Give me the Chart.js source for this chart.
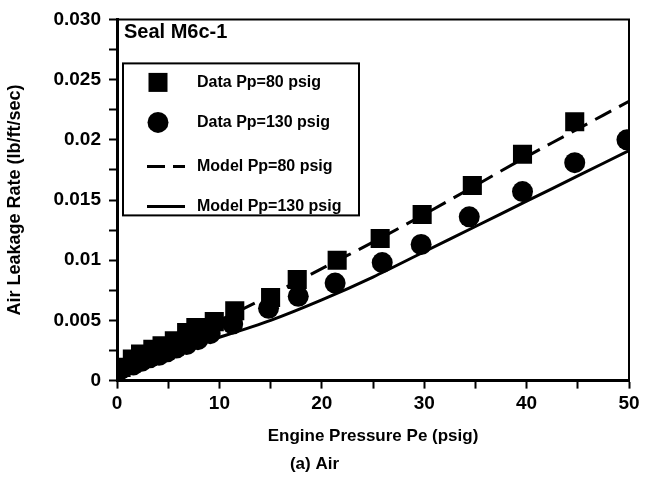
<!DOCTYPE html>
<html>
<head>
<meta charset="utf-8">
<script src="https://cdn.jsdelivr.net/npm/chart.js@4.4.0/dist/chart.umd.min.js"></script>
<style>
  html, body { margin: 0; padding: 0; background: #fff; }
  #wrap { width: 650px; height: 486px; }
</style>
</head>
<body>
<div id="wrap"><canvas id="leakChart"></canvas></div>
<script>
// --- datos ---
const pressure80 = [0.4, 1.5, 2.3, 3.5, 4.4, 5.6, 6.8, 7.7, 9.5, 11.5, 15.0, 17.6, 21.5, 25.7, 29.8, 34.7, 39.6, 44.7];
const rate80 = [0.0011, 0.0018, 0.0022, 0.0026, 0.0029, 0.0033, 0.0040, 0.0044, 0.0049, 0.0058, 0.0069, 0.0084, 0.0100, 0.0118, 0.0138, 0.0162, 0.0188, 0.0215];

const pressure130 = [0.3, 1.6, 2.4, 3.2, 4.1, 4.9, 5.8, 6.8, 7.9, 9.1, 11.3, 14.8, 17.7, 21.3, 25.9, 29.7, 34.4, 39.6, 44.7, 49.8];
const rate130 = [0.0009, 0.0013, 0.0016, 0.0019, 0.0021, 0.0024, 0.0027, 0.0030, 0.0034, 0.0039, 0.0047, 0.0060, 0.0070, 0.0081, 0.0098, 0.0113, 0.0136, 0.0157, 0.0181, 0.0200];

const modelPressure = [0, 5, 10, 15, 20, 25, 30, 35, 40, 45, 50];
const model80 = [0.0009, 0.0031, 0.0050, 0.0071, 0.0093, 0.0115, 0.0138, 0.0162, 0.0186, 0.0209, 0.0232];
const model130 = [0.0008, 0.0023, 0.0036, 0.0050, 0.0067, 0.0086, 0.0107, 0.0128, 0.0149, 0.0170, 0.0191];

const yTickText = ['0', '0.005', '0.01', '0.015', '0.02', '0.025', '0.030'];
const xTickText = ['0', '10', '20', '30', '40', '50'];

const legendLabels = ['Data Pp=80 psig', 'Data Pp=130 psig', 'Model Pp=80 psig', 'Model Pp=130 psig'];
const plotTitle = 'Seal M6c-1';
// --- fin de los datos ---

const FONT = '"Liberation Sans", Arial, Helvetica, sans-serif';
const toPoints = (xs, ys) => xs.map((x, i) => ({ x: x, y: ys[i] }));

// Marco, título interior y leyenda dibujados a mano
const framePlugin = {
    id: 'frameAndLegend',
    afterDraw(chart) {
        const ctx = chart.ctx;
        const a = chart.chartArea;
        ctx.save();
        ctx.strokeStyle = '#000';
        ctx.lineWidth = 2;
        ctx.beginPath();
        ctx.moveTo(a.left, a.top);
        ctx.lineTo(a.right, a.top);
        ctx.lineTo(a.right, a.bottom);
        ctx.stroke();

        ctx.fillStyle = '#000';
        ctx.font = 'bold 20px ' + FONT;
        ctx.textBaseline = 'middle';
        ctx.textAlign = 'left';
        ctx.fillText(plotTitle, a.left + 7, a.top + 13);

        // caja de la leyenda
        const bx = a.left + 6, by = a.top + 44, bw = 236, bh = 152;
        ctx.lineWidth = 2;
        ctx.strokeRect(bx, by, bw, bh);

        const mx = bx + 35, tx = bx + 74;
        const rows = [by + 19, by + 59, by + 103, by + 143];
        ctx.fillRect(mx - 9.5, rows[0] - 9.5, 19, 19);
        ctx.beginPath();
        ctx.arc(mx, rows[1], 10.5, 0, Math.PI * 2);
        ctx.fill();

        ctx.lineWidth = 3;
        ctx.setLineDash([18, 8]);
        ctx.beginPath();
        ctx.moveTo(mx - 11, rows[2]);
        ctx.lineTo(mx + 27, rows[2]);
        ctx.stroke();
        ctx.setLineDash([]);
        ctx.beginPath();
        ctx.moveTo(mx - 11, rows[3]);
        ctx.lineTo(mx + 27, rows[3]);
        ctx.stroke();

        ctx.font = 'bold 16px ' + FONT;
        legendLabels.forEach((t, i) => ctx.fillText(t, tx, rows[i]));
        ctx.restore();
    }
};

const leakCtx = document.getElementById('leakChart').getContext('2d');

const leakChart = new Chart(leakCtx, {
    type: 'scatter',
    data: {
        datasets: [
            {
                label: legendLabels[0],
                data: toPoints(pressure80, rate80),
                pointStyle: 'rect',
                pointRadius: 13.5,
                backgroundColor: '#000',
                borderColor: '#000',
                borderWidth: 0,
                showLine: false
            },
            {
                label: legendLabels[1],
                data: toPoints(pressure130, rate130),
                pointStyle: 'circle',
                pointRadius: 10.5,
                backgroundColor: '#000',
                borderColor: '#000',
                borderWidth: 0,
                showLine: false
            },
            {
                label: legendLabels[2],
                data: toPoints(modelPressure, model80),
                showLine: true,
                pointRadius: 0,
                borderColor: '#000',
                borderWidth: 3,
                borderDash: [18, 9],
                tension: 0.3
            },
            {
                label: legendLabels[3],
                data: toPoints(modelPressure, model130),
                showLine: true,
                pointRadius: 0,
                borderColor: '#000',
                borderWidth: 3,
                tension: 0.3
            }
        ]
    },
    options: {
        responsive: true,
        maintainAspectRatio: false,
        animation: false,
        layout: { padding: { top: 15, right: 21, left: 0, bottom: 0 } },
        plugins: {
            legend: { display: false },
            tooltip: { enabled: false },
            title: {
                display: true,
                position: 'bottom',
                text: '(a) Air',
                color: '#000',
                font: { family: FONT, size: 17, weight: 'bold' },
                padding: { top: 5, bottom: 11 }
            }
        },
        scales: {
            x: {
                type: 'linear',
                min: 0,
                max: 50,
                afterFit: (scale) => { scale.height = 69; },
                ticks: {
                    stepSize: 5,
                    autoSkip: false,
                    maxRotation: 0,
                    padding: 4,
                    color: '#000',
                    font: { family: FONT, size: 19, weight: 'bold' },
                    callback: (v) => (v % 10 === 0 ? xTickText[v / 10] : '')
                },
                grid: { drawOnChartArea: false, drawTicks: true, tickLength: 8, tickColor: '#000', tickWidth: 2 },
                border: { color: '#000', width: 3 },
                title: {
                    display: true,
                    text: 'Engine Pressure Pe (psig)',
                    color: '#000',
                    font: { family: FONT, size: 17, weight: 'bold' },
                    padding: { top: 11, bottom: 3 }
                }
            },
            y: {
                type: 'linear',
                min: 0,
                max: 0.03,
                afterFit: (scale) => { scale.width = 117; },
                ticks: {
                    stepSize: 0.0025,
                    autoSkip: false,
                    padding: 8,
                    color: '#000',
                    font: { family: FONT, size: 19, weight: 'bold' },
                    callback: (v) => {
                        const k = Math.round(v / 0.0025);
                        return k % 2 === 0 ? yTickText[k / 2] : '';
                    }
                },
                grid: { drawOnChartArea: false, drawTicks: true, tickLength: 8, tickColor: '#000', tickWidth: 2 },
                border: { color: '#000', width: 3 },
                title: {
                    display: true,
                    text: 'Air Leakage Rate (lb/ft/sec)',
                    color: '#000',
                    font: { family: FONT, size: 18, weight: 'bold' },
                    padding: { top: 4, bottom: 4 }
                }
            }
        }
    },
    plugins: [framePlugin]
});
</script>
</body>
</html>
